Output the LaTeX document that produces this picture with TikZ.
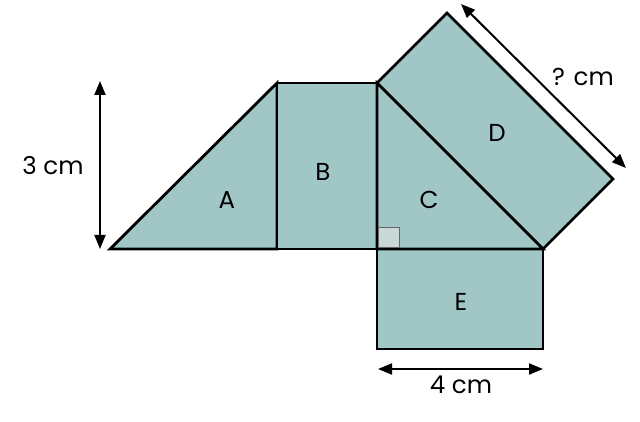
\documentclass[tikz,border=0pt]{standalone}
\usepackage{fontspec}
\setmainfont{Poppins}
\usetikzlibrary{arrows.meta}
\definecolor{shapefill}{HTML}{A0C6C6}
\definecolor{markfill}{HTML}{CAD7D7}
\tikzset{
  facet/.style={fill=shapefill,draw=black,line width=2.8pt,line join=miter},
  dim/.style={line width=2pt,{Triangle[length=14pt,width=11pt]}-{Triangle[length=14pt,width=11pt]}},
  lbl/.style={font=\fontsize{24.5}{28}\selectfont,inner sep=0pt}
}
\begin{document}
\begin{tikzpicture}[x=1pt,y=-1pt]
\useasboundingbox (0,0) rectangle (640,422);
% corners
\coordinate (P1) at (110,249);
\coordinate (P2) at (277,83);
\coordinate (P3) at (277,249);
\coordinate (P4) at (377,83);
\coordinate (P5) at (377,249);
\coordinate (P6) at (543,249);
\coordinate (P7) at (447,13);
\coordinate (P8) at (613,179);
\coordinate (P9) at (377,349);
\coordinate (P10) at (543,349);
% shapes
\draw[facet] (P1) -- (P2) -- (P3) -- cycle;
\draw[facet] (P2) -- (P4) -- (P5) -- (P3) -- cycle;
\draw[facet] (P4) -- (P7) -- (P8) -- (P6) -- cycle;
\draw[facet] (P5) -- (P6) -- (P10) -- (P9) -- cycle;
\draw[facet] (P4) -- (P5) -- (P6) -- cycle;
% right angle mark
\draw[fill=markfill,draw=gray!80!black,line width=0.8pt] (378.5,247.5) rectangle (399,227);
\draw[line width=2.8pt] (P4) -- (P5) -- (P6);
% labels
\node[lbl] (la) at (227,200) {A};
\node[lbl] (lb) at (323,172) {B};
\node[lbl] (lc) at (429,200) {C};
\node[lbl] (ld) at (497,133) {D};
\node[lbl] (le) at (461,302) {E};
% dimensions
\coordinate (h1) at (100,81);
\coordinate (h2) at (100,249);
\draw[dim] (h1) -- (h2);
\node[lbl] (t3) at (53,166) {3 cm};
\coordinate (w1) at (378,369);
\coordinate (w2) at (543,369);
\draw[dim] (w1) -- (w2);
\node[lbl] (t4) at (461,385) {4 cm};
\coordinate (d1) at (461,4);
\coordinate (d2) at (626,168);
\draw[dim] (d1) -- (d2);
\node[lbl] (tq) at (583,77) {? cm};
\end{tikzpicture}
\end{document}
